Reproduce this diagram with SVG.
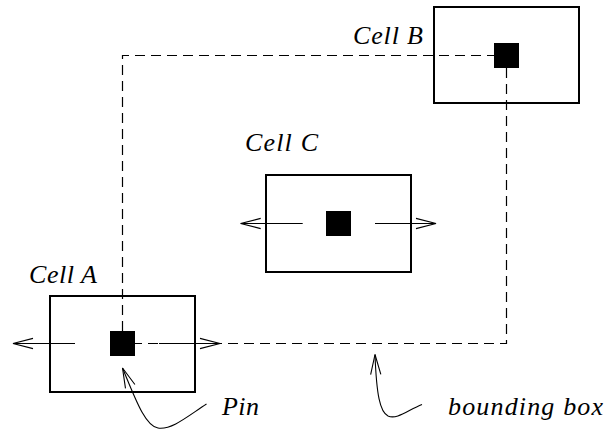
<svg xmlns="http://www.w3.org/2000/svg" width="607" height="430" viewBox="0 0 607 430">
<defs>
<style>
.cell{fill:none;stroke:#000;stroke-width:2}
.pin{fill:#000}
.dash{fill:none;stroke:#000;stroke-width:1.2;stroke-dasharray:10 6}
.arr{fill:none;stroke:#000;stroke-width:1.1;marker-end:url(#chev)}
.lbl{font-family:"Liberation Serif","Times New Roman",serif;font-style:italic;font-size:26px;fill:#000}
</style>
<marker id="chev" markerUnits="userSpaceOnUse" markerWidth="30" markerHeight="20" refX="20" refY="10" orient="auto" overflow="visible">
<path d="M0 4.9 L20 10 L0 15.1" fill="none" stroke="#000" stroke-width="1.1"/>
</marker>
</defs>
<rect width="607" height="430" fill="#fff"/>
<g id="connectors">
<path class="dash" d="M122.5 331 V55.5 H494"/>
<path class="dash" d="M506.5 68 V343.5 H135"/>
<path class="arr" d="M75 343.5 H13"/>
<path class="arr" d="M159 343.5 H220"/>
<path class="arr" d="M302.7 223.5 H240.7"/>
<path class="arr" d="M375 223.5 H436"/>
<path class="arr" d="M206.5 404 C188 416 172 430 158 428 C145 426 135 398 122.5 368"/>
<path class="arr" d="M422 404.5 C408 410 397 420 388 416 C380 412 376.5 395 375 354.5"/>
</g>
<g id="cellA">
<rect class="cell" x="50" y="296" width="145" height="96"/>
<rect class="pin" x="110" y="331" width="25" height="25"/>
<text class="lbl" x="29" y="283" textLength="68" lengthAdjust="spacing">Cell A</text>
</g>
<g id="cellB">
<rect class="cell" x="434" y="7" width="145" height="96"/>
<rect class="pin" x="494" y="43" width="25" height="25"/>
<text class="lbl" x="353" y="44" textLength="70" lengthAdjust="spacing">Cell B</text>
</g>
<g id="cellC">
<rect class="cell" x="266" y="175" width="145" height="97"/>
<rect class="pin" x="326" y="211" width="25" height="25"/>
<text class="lbl" x="245" y="151" textLength="73" lengthAdjust="spacing">Cell C</text>
</g>
<g id="pinLabel">
<text class="lbl" x="222" y="415" textLength="37" lengthAdjust="spacing">Pin</text>
</g>
<g id="bboxLabel">
<text class="lbl" x="448" y="415" textLength="155" lengthAdjust="spacing">bounding box</text>
</g>
</svg>
